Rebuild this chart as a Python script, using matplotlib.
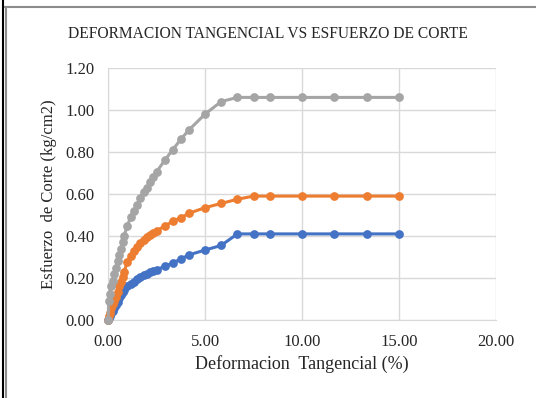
import matplotlib.pyplot as plt
from matplotlib.lines import Line2D

# Deformacion tangencial (%) para las tres cargas normales
deformacion = [0, 0.04, 0.08, 0.17, 0.25, 0.33, 0.42, 0.50, 0.58, 0.67, 0.75, 0.83,
               1.00, 1.17, 1.33, 1.50, 1.67, 1.83, 2.00, 2.17, 2.33, 2.50, 2.92,
               3.33, 3.75, 4.17, 5.00, 5.83, 6.67, 7.50, 8.33, 10.00, 11.67, 13.33, 15.00]

# Esfuerzo de corte (kg/cm2)
corte_1 = [0, 0.010, 0.020, 0.035, 0.045, 0.058, 0.072, 0.088, 0.105, 0.120, 0.135, 0.145,
           0.160, 0.172, 0.183, 0.195, 0.205, 0.213, 0.220, 0.227, 0.234, 0.240, 0.255,
           0.272, 0.290, 0.310, 0.333, 0.355, 0.410, 0.410, 0.410, 0.410, 0.410, 0.410, 0.410]
corte_2 = [0, 0.020, 0.035, 0.055, 0.075, 0.090, 0.110, 0.135, 0.160, 0.180, 0.205, 0.230,
           0.275, 0.305, 0.330, 0.350, 0.365, 0.380, 0.395, 0.405, 0.415, 0.425, 0.447,
           0.470, 0.487, 0.508, 0.535, 0.555, 0.575, 0.590, 0.590, 0.590, 0.590, 0.590, 0.590]
corte_3 = [0, 0.090, 0.125, 0.160, 0.185, 0.220, 0.250, 0.280, 0.310, 0.340, 0.370, 0.400,
           0.450, 0.490, 0.520, 0.550, 0.580, 0.610, 0.630, 0.655, 0.680, 0.705, 0.760,
           0.810, 0.860, 0.905, 0.980, 1.040, 1.060, 1.060, 1.060, 1.060, 1.060, 1.060, 1.060]

x_ticks = [0, 5, 10, 15, 20]
y_ticks = [0.0, 0.2, 0.4, 0.6, 0.8, 1.0, 1.2]

plt.rcParams['font.family'] = ['Liberation Serif', 'DejaVu Serif']

fig = plt.figure(figsize=(5.36, 3.98), dpi=100)
ax = fig.add_axes([108 / 536, 78 / 398, 388 / 536, 252 / 398])

for y, color in [(corte_1, '#4472C4'), (corte_2, '#ED7D31'), (corte_3, '#A5A5A5')]:
    ax.plot(deformacion, y, color=color, linewidth=2.2, marker='o',
            markersize=6.3, markeredgewidth=0, clip_on=False, zorder=3)

ax.set_xlim(0, 20)
ax.set_ylim(0, 1.2)
ax.set_xticks(x_ticks)
ax.set_yticks(y_ticks)
ax.set_xticklabels([f'{v:.2f}' for v in x_ticks], fontsize=12, color='#262626')
ax.set_yticklabels([f'{v:.2f}' for v in y_ticks], fontsize=12, color='#262626')
ax.tick_params(length=0)
ax.tick_params(axis='x', pad=10)
ax.tick_params(axis='y', pad=10)
ax.grid(True, color='#D9D9D9', linewidth=1)
ax.set_axisbelow(True)
for side in ['top', 'right']:
    ax.spines[side].set_visible(False)
for side in ['left', 'bottom']:
    ax.spines[side].set_color('#D9D9D9')

ax.set_xlabel('Deformacion  Tangencial (%)', fontsize=13, color='#262626', labelpad=4)
ax.set_ylabel('Esfuerzo  de Corte (kg/cm2)', fontsize=12, color='#262626', labelpad=6)
fig.text(0.5, 1 - 34 / 398, 'DEFORMACION TANGENCIAL VS ESFUERZO DE CORTE',
         ha='center', va='center', fontsize=11.2, color='#262626')

# marco exterior
fig.add_artist(Line2D([3 / 536, 3 / 536], [0, 1], color='black', linewidth=1.5))
fig.add_artist(Line2D([5.5 / 536, 5.5 / 536], [0, 1 - 7 / 398], color='#8C8C8C', linewidth=1.5))
fig.add_artist(Line2D([5 / 536, 1], [1 - 7 / 398, 1 - 7 / 398], color='#8C8C8C', linewidth=1.5))

fig.savefig('out.png', dpi=100, facecolor='white')
